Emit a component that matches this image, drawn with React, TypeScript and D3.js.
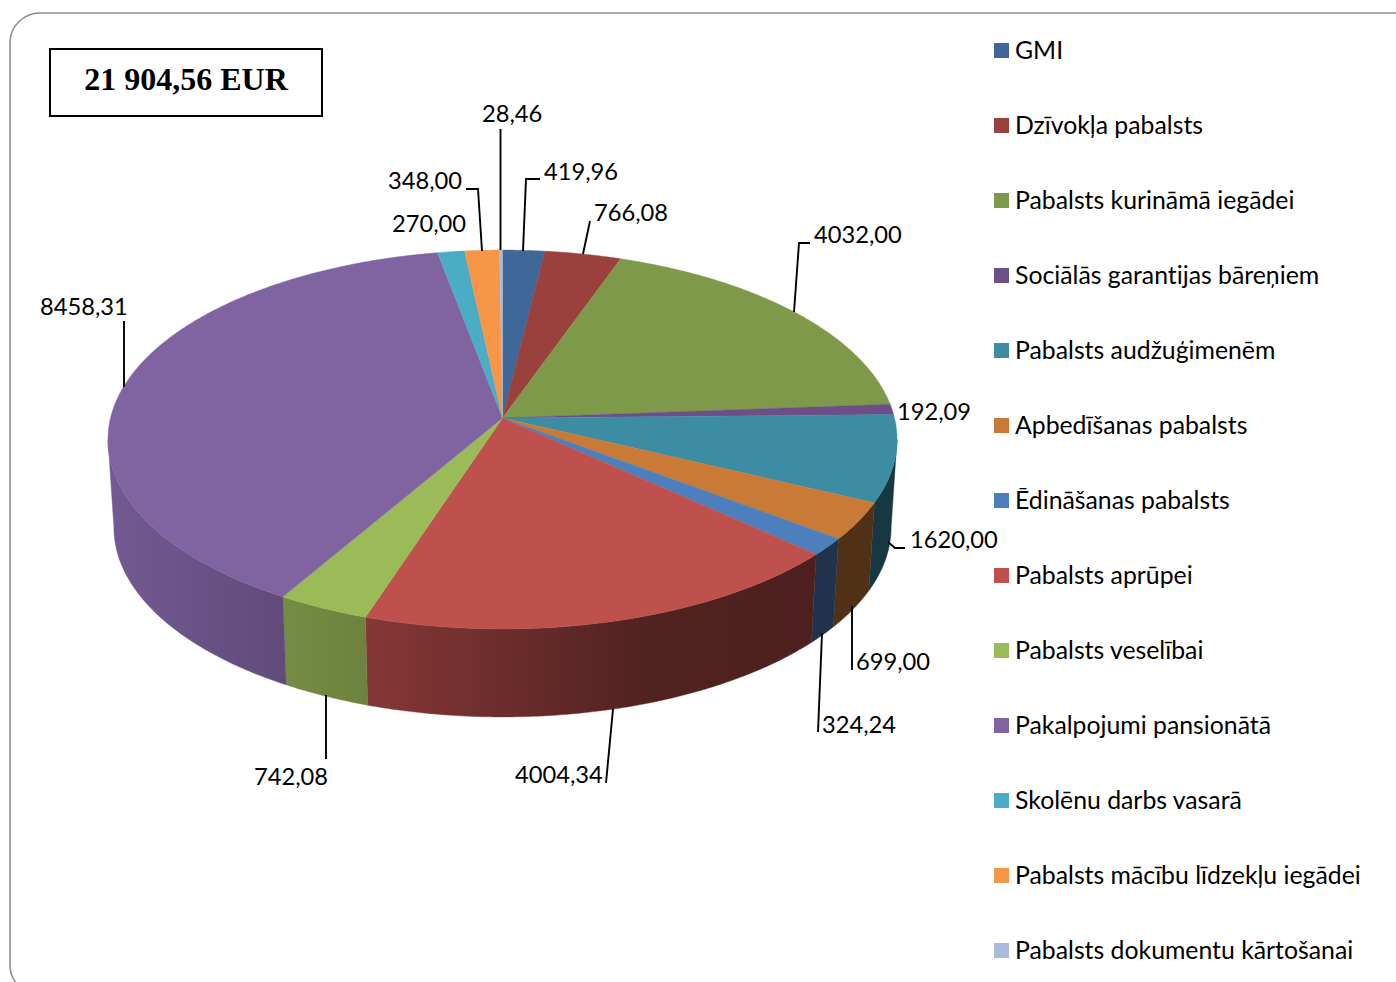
import React from "react";
import * as d3 from "d3";

const categories = ["GMI","Dzīvokļa pabalsts","Pabalsts kurināmā iegādei","Sociālās garantijas bāreņiem","Pabalsts audžuģimenēm","Apbedīšanas pabalsts","Ēdināšanas pabalsts","Pabalsts aprūpei","Pabalsts veselībai","Pakalpojumi pansionātā","Skolēnu darbs vasarā","Pabalsts mācību līdzekļu iegādei","Pabalsts dokumentu kārtošanai"];
const values = [419.96,766.08,4032.0,192.09,1620.0,699.0,324.24,4004.34,742.08,8458.31,270.0,348.0,28.46];
const valueLabels = ["419,96","766,08","4032,00","192,09","1620,00","699,00","324,24","4004,34","742,08","8458,31","270,00","348,00","28,46"];
const colors = ["#3f6797","#9a403d","#7f994a","#6b4f86","#3c8da3","#c97a36","#4d7fbc","#be504d","#9bbb59","#8064a2","#4bacc6","#f79646","#a9bcdc"];
const title = "21 904,56 EUR";

// label anchor (x, vertical centre) and leader polyline, in page pixels
const labelX = [544,594,814,897,910,856,822,515,254,40,392,388,482];
const labelY = [172,213,235,412,540,662,725,775,777,307,224,181,114];
const leaders: number[][][] = [
  [[523,251],[526,179],[540,179]],
  [[583,254],[590,221]],
  [[794,312],[799,243],[810,243]],
  [],
  [[888,542],[895,548],[905,548]],
  [[852,606],[852,670]],
  [[822,633],[818,732]],
  [[613,709],[606,783]],
  [[326,695],[326,759]],
  [[124,387],[124,321]],
  [],
  [[482,251],[478,189],[466,189]],
  [[500.5,250],[500.5,129]],
];

const cx = 502.5, cy = 418, a = 392, b = 187, k = 0.1135;
const depth = 88, bottomScale = 0.985;
const FONT = "Lato, Carlito, sans-serif";

const project = (t: number): [number, number] => {
  const u = Math.sin(t), v = Math.cos(t), w = 1 + k * v;
  return [cx + (a * u) / w, cy - (b * v) / w];
};
const lower = ([x, y]: [number, number]): [number, number] => [cx + (x - cx) * bottomScale, y + depth];
const line = d3.line();
const arcPts = (t0: number, t1: number) => {
  const n = Math.max(2, Math.ceil((t1 - t0) / 0.01));
  return d3.range(n + 1).map((i) => project(t0 + ((t1 - t0) * i) / n));
};

const shadeX = [108, 285, 367, 650, 897];
const shadeV = [0.9, 0.75, 0.7, 0.42, 0.4];
const scaled = (c: string, s: number) => {
  const r = d3.rgb(c);
  return d3.rgb(r.r * s, r.g * s, r.b * s).formatHex();
};

const frontStart = Math.acos(-k);
const frontEnd = 2 * Math.PI - frontStart;
const arcs = d3.pie<number>().sort(null).startAngle(0).endAngle(2 * Math.PI)(values);

export default function App() {
  return (
    <svg width={1396} height={982} style={{ position: "absolute", left: 0, top: 0, display: "block", background: "#fff", fontVariantLigatures: "none" }}>
      <defs>
        {colors.map((c, i) => (
          <linearGradient key={i} id={`wall${i}`} gradientUnits="userSpaceOnUse" x1={108} x2={897} y1={0} y2={0}>
            {shadeX.map((x, j) => (
              <stop key={j} offset={(x - 108) / (897 - 108)} stopColor={scaled(c, shadeV[j])} />
            ))}
          </linearGradient>
        ))}
      </defs>
      <rect x={10} y={13} width={1500} height={982} rx={30} ry={30} fill="#fff" stroke="#8f8f8f" strokeWidth={1.6} />
      <rect x={50} y={49} width={272} height={67} fill="#fff" stroke="#000" strokeWidth={2} />
      <text x={186} y={90} textAnchor="middle" fontFamily="'Liberation Serif', serif" fontWeight={700} fontSize={32}>{title}</text>

      {arcs.map((d, i) => {
        const t0 = Math.max(d.startAngle, frontStart), t1 = Math.min(d.endAngle, frontEnd);
        if (t1 <= t0) return null;
        const top = arcPts(t0, t1);
        const pts = [...top, ...top.slice().reverse().map(lower)];
        return <path key={i} d={line(pts) + "Z"} fill={`url(#wall${i})`} stroke={`url(#wall${i})`} strokeWidth={0.4} />;
      })}
      {arcs.map((d, i) => (
        <path key={i} d={line([[cx, cy], ...arcPts(d.startAngle, d.endAngle)]) + "Z"} fill={colors[i]} stroke={colors[i]} strokeWidth={0.4} />
      ))}

      {leaders.map((p, i) => p.length > 0 && (
        <path key={i} d={line(p as [number, number][]) || ""} fill="none" stroke="#000" strokeWidth={1.9} />
      ))}
      {valueLabels.map((t, i) => (
        <text key={i} x={labelX[i]} y={labelY[i]} dy="0.35em" fontFamily={FONT} fontSize={23.7} fill="#000">{t}</text>
      ))}

      {categories.map((c, i) => (
        <g key={i}>
          <rect x={994} y={43 + 75 * i} width={15} height={15} fill={colors[i]} />
          <text x={1015} y={50 + 75 * i} dy="0.35em" fontFamily={FONT} fontSize={24.8} fill="#000">{c}</text>
        </g>
      ))}
    </svg>
  );
}
